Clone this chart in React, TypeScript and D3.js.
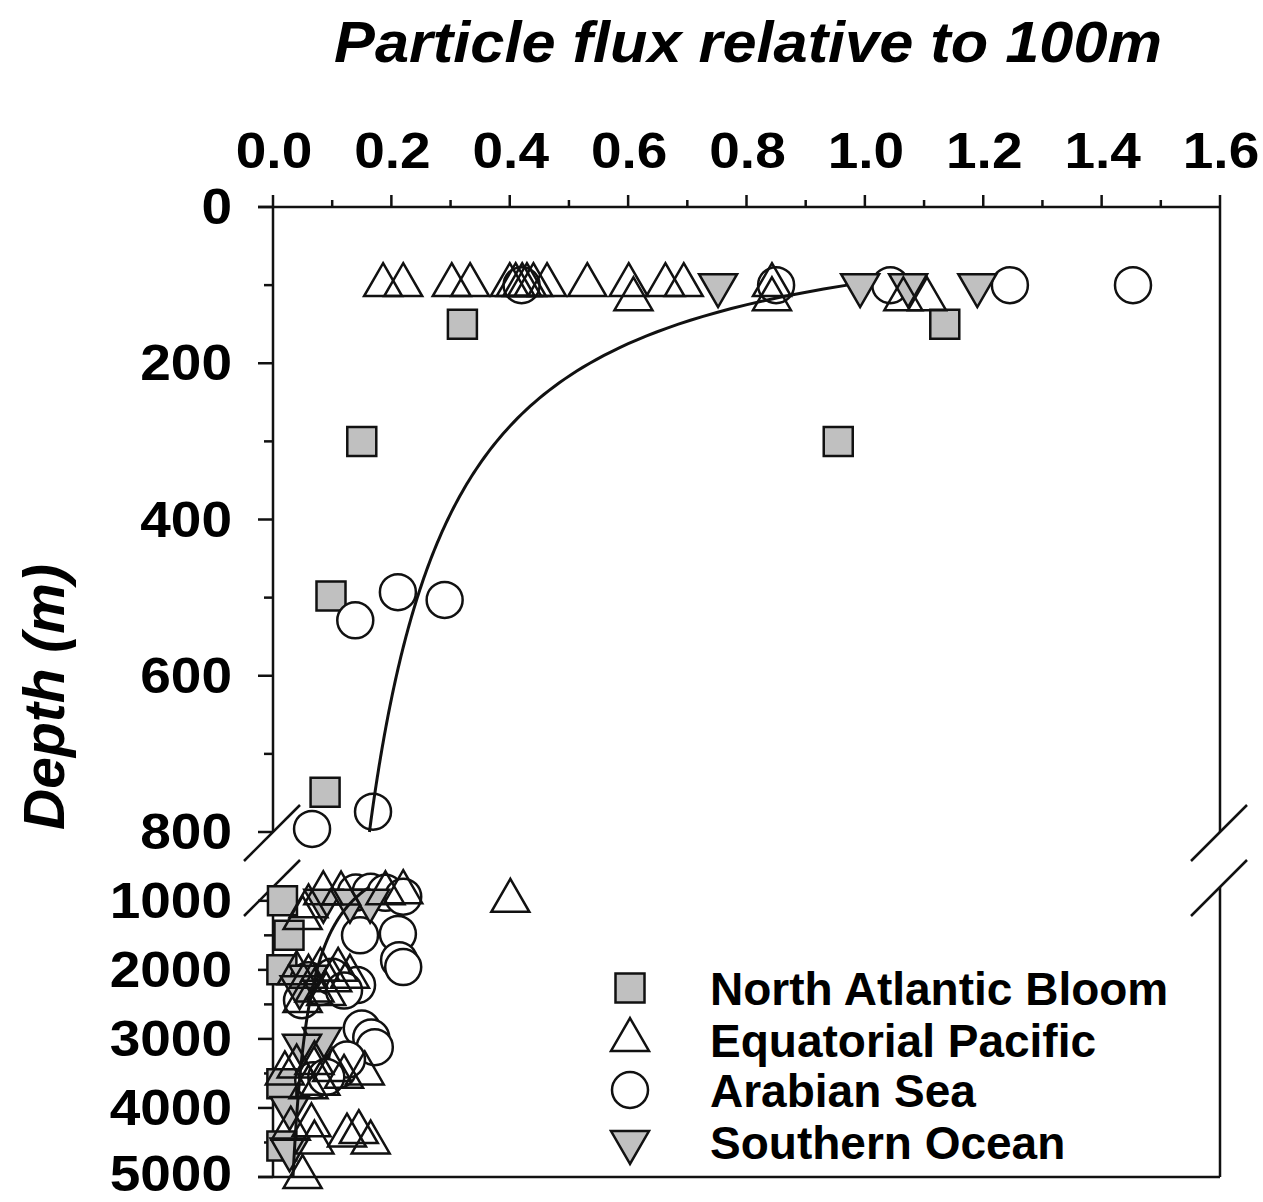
import React from "react";
import * as d3 from "d3";

// ---------- data ----------
const X_TICKS = [0, 0.2, 0.4, 0.6, 0.8, 1.0, 1.2, 1.4, 1.6];
const X_MINOR = [0.1, 0.3, 0.5, 0.7, 0.9, 1.1, 1.3, 1.5];
const Y_TOP_TICKS = [0, 200, 400, 600, 800];
const Y_TOP_MINOR = [100, 300, 500, 700];
const Y_BOT_TICKS = [1000, 2000, 3000, 4000, 5000];
const Y_BOT_MINOR = [1500, 2500, 3500, 4500];
const BREAK_DEPTH = 800;
const MAX_DEPTH = 5000;

const TITLE = "Particle flux relative to 100m";
const Y_LABEL = "Depth (m)";
const SERIES_NAMES = ["North Atlantic Bloom", "Equatorial Pacific", "Arabian Sea", "Southern Ocean"];

// [relative flux, depth m]
const northAtlantic: [number, number][] = [
  [0.32, 150], [1.135, 150], [0.15, 300], [0.955, 300], [0.098, 498], [0.088, 749],
  [0.016, 1000], [0.027, 1500], [0.015, 2000], [0.015, 3650], [0.015, 4550],
];

const equatorialPacific: [number, number][] = [
  [0.186, 100], [0.22, 100], [0.302, 100], [0.333, 100], [0.4, 100], [0.41, 100], [0.421, 100],
  [0.429, 100], [0.44, 100], [0.463, 100], [0.531, 100], [0.601, 100], [0.609, 118], [0.663, 100],
  [0.694, 100], [0.843, 100], [0.843, 118], [1.065, 118], [1.105, 118],
  [0.085, 890], [0.115, 895], [0.19, 890], [0.22, 875], [0.401, 1000], [0.06, 1080], [0.05, 1250],
  [0.04, 2050], [0.06, 2100], [0.08, 2000], [0.1, 2150], [0.11, 2000], [0.13, 2100], [0.07, 2300],
  [0.09, 2350], [0.05, 2450],
  [0.02, 3500], [0.04, 3400], [0.07, 3350], [0.1, 3450], [0.12, 3550], [0.155, 3500], [0.06, 3700],
  [0.08, 3650],
  [0.03, 4300], [0.065, 4250], [0.07, 4500], [0.125, 4400], [0.145, 4350], [0.165, 4500], [0.05, 5000],
];

const arabianSea: [number, number][] = [
  [0.42, 100], [0.85, 100], [1.043, 100], [1.245, 100], [1.453, 100],
  [0.211, 493], [0.29, 503], [0.139, 529], [0.169, 774], [0.066, 796],
  [0.14, 880], [0.165, 870], [0.19, 885], [0.22, 940], [0.147, 1500], [0.211, 1480], [0.213, 1860],
  [0.22, 1960], [0.142, 2220], [0.049, 2440], [0.06, 2150], [0.08, 2250], [0.1, 2100], [0.12, 2300],
  [0.15, 2850], [0.166, 2980], [0.172, 3120], [0.068, 3600], [0.11, 3450], [0.125, 3300], [0.09, 3550],
];

const southernOcean: [number, number][] = [
  [0.752, 100], [0.992, 100], [1.073, 100], [1.19, 100],
  [0.085, 1000], [0.13, 1000], [0.164, 1000], [0.06, 2100], [0.045, 2250], [0.083, 3000],
  [0.049, 3100], [0.028, 4000], [0.028, 4600],
];

// Martin-type attenuation curve parameters
const CURVE_F0 = 0.97;
const CURVE_B = 0.858;
const CURVE_Z0 = 100;

// ---------- layout ----------
const W = 1263;
const H = 1202;
const FONT = "'Liberation Sans', Arial, Helvetica, sans-serif";
const GRAY = "#c0c0c0";
const LABEL_STRETCH = 1.1;

const x = d3.scaleLinear().domain([0, 1.6]).range([273, 1220]);
const yTop = d3.scaleLinear().domain([0, BREAK_DEPTH]).range([207, 832]);
const yBot = d3.scaleLinear().domain([BREAK_DEPTH, MAX_DEPTH]).range([887, 1177]);
const yPoint = (d: number) => (d <= BREAK_DEPTH ? yTop(d) : yBot(d));

const sq = d3.symbol().type(d3.symbolSquare).size(29 * 29)()!;
const tri = d3.symbol().type(d3.symbolTriangle).size(625)()!;
const circ = d3.symbol().type(d3.symbolCircle).size(Math.PI * 18 * 18)()!;

type Mk = { path: string; fill: string; rot: number };
const MARKERS: Mk[] = [
  { path: sq, fill: GRAY, rot: 0 },
  { path: tri, fill: "none", rot: 0 },
  { path: circ, fill: "#fff", rot: 0 },
  { path: tri, fill: GRAY, rot: 180 },
];

const curveFn = (z: number) => CURVE_F0 * Math.pow(z / CURVE_Z0, -CURVE_B);

export default function App() {
  const x0 = x.range()[0];
  const x1 = x.range()[1];
  const line = d3.line<number>().x((z) => x(curveFn(z)));
  const topZ = d3.range(CURVE_Z0, BREAK_DEPTH + 1, 5);
  const botZ = d3.range(BREAK_DEPTH, MAX_DEPTH + 1, 20);
  const topPath = line.y((z) => yTop(z))(topZ)!;
  const botPath = line.y((z) => yBot(z))(botZ)!;

  const drawOrder: [number, [number, number][]][] = [
    [0, northAtlantic],
    [2, arabianSea],
    [3, southernOcean],
    [1, equatorialPacific],
  ];

  const stroke = { stroke: "#111", strokeWidth: 2.5 };

  const slash = (cx: number, cy: number, key: string) => (
    <line key={key} x1={cx - 29} y1={cy + 29} x2={cx + 27} y2={cy - 27} stroke="#111" strokeWidth={2.5} />
  );

  const yBreakTop = yTop(BREAK_DEPTH);
  const yBreakBot = yBot(BREAK_DEPTH);

  const leftLabel = (t: number, y: number) => (
    <text transform={`translate(232,${Math.min(y + 17, H - 11)}) scale(${LABEL_STRETCH},1)`} textAnchor="end"
      fontSize={50} fontWeight="bold">{t}</text>
  );

  return (
    <svg width={W} height={H} style={{ position: "absolute", left: 0, top: 0, background: "#fff" }} fontFamily={FONT}>
      <rect width={W} height={H} fill="#fff" />
      {/* title */}
      <text x={748} y={62} textAnchor="middle" fontSize={58} fontWeight="bold" fontStyle="italic"
        textLength={828} lengthAdjust="spacingAndGlyphs">{TITLE}</text>
      {/* y label */}
      <text transform={`translate(64,697) rotate(-90)`} textAnchor="middle" fontSize={57} fontWeight="bold"
        fontStyle="italic">{Y_LABEL}</text>

      {/* top axis */}
      <line x1={x0 - 15} x2={x1} y1={yTop(0)} y2={yTop(0)} {...stroke} />
      {X_TICKS.map((t) => (
        <g key={"xt" + t}>
          <line x1={x(t)} x2={x(t)} y1={yTop(0)} y2={yTop(0) - 12} {...stroke} />
          <text transform={`translate(${x(t) + 1},168) scale(${LABEL_STRETCH},1)`} textAnchor="middle" fontSize={50}
            fontWeight="bold">{d3.format(".1f")(t)}</text>
        </g>
      ))}
      {X_MINOR.map((t) => (
        <line key={"xm" + t} x1={x(t)} x2={x(t)} y1={yTop(0)} y2={yTop(0) - 7} {...stroke} />
      ))}

      {/* left & right axes, upper */}
      <line x1={x0} x2={x0} y1={yTop(0)} y2={yBreakTop} {...stroke} />
      <line x1={x1} x2={x1} y1={yTop(0)} y2={yBreakTop} {...stroke} />
      {/* lower */}
      <line x1={x0} x2={x0} y1={yBreakBot} y2={yBot(MAX_DEPTH)} {...stroke} />
      <line x1={x1} x2={x1} y1={yBreakBot} y2={yBot(MAX_DEPTH)} {...stroke} />
      <line x1={x0 - 15} x2={x1} y1={yBot(MAX_DEPTH)} y2={yBot(MAX_DEPTH)} {...stroke} />

      {Y_TOP_TICKS.map((t) => (
        <g key={"yt" + t}>
          <line x1={x0 - 15} x2={x0} y1={yTop(t)} y2={yTop(t)} {...stroke} />
          {leftLabel(t, yTop(t))}
        </g>
      ))}
      {Y_TOP_MINOR.map((t) => (
        <line key={"ym" + t} x1={x0 - 9} x2={x0} y1={yTop(t)} y2={yTop(t)} {...stroke} />
      ))}
      {Y_BOT_TICKS.map((t) => (
        <g key={"yb" + t}>
          <line x1={x0 - 15} x2={x0} y1={yBot(t)} y2={yBot(t)} {...stroke} />
          {leftLabel(t, yBot(t))}
        </g>
      ))}
      {Y_BOT_MINOR.map((t) => (
        <line key={"ybm" + t} x1={x0 - 9} x2={x0} y1={yBot(t)} y2={yBot(t)} {...stroke} />
      ))}

      {/* break marks */}
      {slash(x0, yBreakTop, "s1")}
      {slash(x0, yBreakBot, "s2")}
      {slash(x1, yBreakTop, "s3")}
      {slash(x1, yBreakBot, "s4")}

      {/* markers */}
      {drawOrder.map(([si, data]) =>
        data.map(([v, d], i) => {
          const m = MARKERS[si];
          return (
            <path key={si + "-" + i} d={m.path}
              transform={`translate(${x(v)},${yPoint(d)}) rotate(${m.rot})`}
              fill={m.fill} stroke="#111" strokeWidth={2.5} />
          );
        })
      )}

      {/* curve */}
      <path d={topPath} fill="none" stroke="#111" strokeWidth={3} />
      <path d={botPath} fill="none" stroke="#111" strokeWidth={3} />

      {/* legend */}
      {SERIES_NAMES.map((name, i) => {
        const cy = [988, 1040, 1090, 1142][i];
        const m = MARKERS[i];
        return (
          <g key={name}>
            <path d={m.path} transform={`translate(630,${cy}) rotate(${m.rot})`} fill={m.fill === "none" ? "#fff" : m.fill}
              stroke="#111" strokeWidth={2.5} />
            <text x={710} y={cy + 17} fontSize={46} fontWeight="bold">{name}</text>
          </g>
        );
      })}
    </svg>
  );
}
